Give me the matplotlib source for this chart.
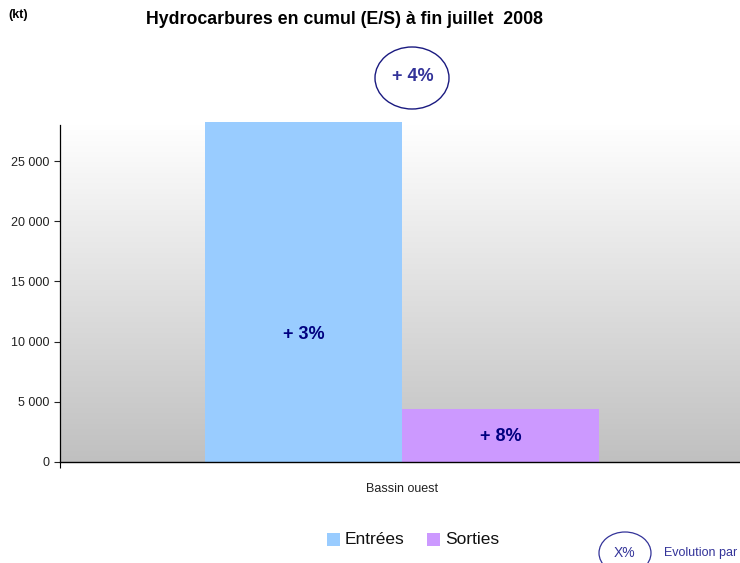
"""
Hydrocarbures en cumul (E/S) - bar chart recreation
"""

import matplotlib
matplotlib.use("Agg")
import matplotlib.pyplot as plt
import numpy as np
from matplotlib.colors import LinearSegmentedColormap
from matplotlib.patches import Ellipse, Rectangle
from matplotlib.ticker import FuncFormatter

plt.rcParams['font.family'] = ['Liberation Sans', 'DejaVu Sans']

# Data
category = "Bassin ouest"
series_names = ["Entrées", "Sorties"]
series_values = [28250, 4400]
series_colors = ["#99CCFF", "#CC99FF"]
series_evolution = ["+ 3%", "+ 8%"]
label_heights = [10600, 2150]
total_evolution = "+ 4%"
y_ticks = [0, 5000, 10000, 15000, 20000, 25000]

fig = plt.figure(figsize=(7.4, 5.63), dpi=100)
ax = fig.add_axes([0.081, 0.1794, 0.919, 0.5986])

x_lo, x_hi = -0.6075, 0.600

# Gradient background (grey at bottom, white at top)
grad = np.linspace(0.0, 1.0, 256).reshape(-1, 1)
bg_cmap = LinearSegmentedColormap.from_list("bg", ["#c0c0c0", "#ffffff"])
ax.imshow(grad, cmap=bg_cmap, aspect='auto',
          extent=[x_lo, x_hi, 0, 28000], origin='lower', zorder=0)

bar_w = 0.35
xs = [-bar_w / 2, bar_w / 2]
for x, v, c, lab, ly in zip(xs, series_values, series_colors,
                            series_evolution, label_heights):
    ax.bar(x, v, width=bar_w, color=c, zorder=2, clip_on=False)
    ax.text(x, ly, lab, ha='center', va='center',
            fontsize=13, fontweight='bold', color='#000080', zorder=3)

ax.set_xlim(x_lo, x_hi)
ax.set_ylim(0, 28000)
ax.set_yticks(y_ticks)
ax.yaxis.set_major_formatter(FuncFormatter(lambda v, p: f"{int(v):,}".replace(",", " ")))
ax.tick_params(axis='y', labelsize=9, length=4, width=0.8, colors='#222222')
ax.set_xticks([0])
ax.set_xticklabels([category])
ax.set_xticks([x_lo], minor=True)
ax.tick_params(axis='x', which='major', length=0, pad=15, labelsize=9,
               colors='#222222')
ax.tick_params(axis='x', which='minor', length=4, width=0.8)
for s in ['top', 'right']:
    ax.spines[s].set_visible(False)
ax.spines['left'].set_linewidth(0.9)
ax.spines['bottom'].set_linewidth(1.0)

# Title and unit
fig.text(345 / 740, 1 - 20 / 563, "Hydrocarbures en cumul (E/S) à fin juillet  2008",
         ha='center', va='center', fontsize=12.8, fontweight='bold')
fig.text(8 / 740, 1 - 15 / 563, "(kt)", ha='left', va='center', fontsize=9,
         fontweight='bold')

# Total evolution circle
fig.add_artist(Ellipse((412 / 740, 1 - 78 / 563), 74 / 740, 62 / 563,
                       transform=fig.transFigure, fill=False,
                       edgecolor='#1a1a80', linewidth=1.0))
fig.text(413 / 740, 1 - 77 / 563, total_evolution, ha='center', va='center',
         fontsize=13, fontweight='bold', color='#333399')

# Legend
for i, (name, c) in enumerate(zip(series_names, series_colors)):
    x0 = [327, 427][i]
    fig.add_artist(Rectangle((x0 / 740, 1 - 546 / 563), 13 / 740, 13 / 563,
                             transform=fig.transFigure, facecolor=c,
                             edgecolor='none'))
    fig.text((x0 + 18) / 740, 1 - 539 / 563, name, ha='left', va='center',
             fontsize=12.5, color='#111111')

# Evolution key
fig.add_artist(Ellipse((625 / 740, 1 - 553 / 563), 52 / 740, 42 / 563,
                       transform=fig.transFigure, fill=False,
                       edgecolor='#333399', linewidth=0.9))
fig.text(625 / 740, 1 - 553 / 563, "X%", ha='center', va='center',
         fontsize=10, color='#333399')
fig.text(664 / 740, 1 - 553 / 563, "Evolution par", ha='left', va='center',
         fontsize=9, color='#333399')

fig.savefig("out.png", dpi=100)
plt.close(fig)
